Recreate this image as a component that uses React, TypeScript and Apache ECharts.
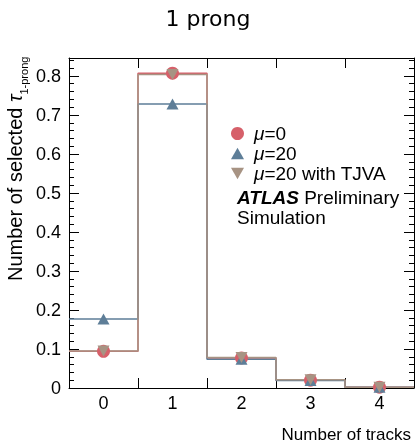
import React, { useEffect, useRef } from "react";
import * as echarts from "echarts";

const trackCategories = ["0", "1", "2", "3", "4"];
const mu0Values = [0.094, 0.807, 0.077, 0.02, 0.002];
const mu20Values = [0.177, 0.728, 0.074, 0.019, 0.002];
const tjvaValues = [0.095, 0.804, 0.078, 0.021, 0.002];
const seriesNames = ["μ=0", "μ=20", "μ=20 with TJVA"];
const seriesColors = ["#d6606a", "#5e7e98", "#a79383"];

const Y_MAX = 0.846;
const X_MIN = -0.5;
const X_MAX = 4.5;
const INV_TRI = "path://M0,0 L10,0 L5,9 Z";
const TRI = "path://M5,0 L10,9 L0,9 Z";

function stepData(values: number[]) {
  const pts: number[][] = [];
  values.forEach((v, i) => {
    pts.push([i - 0.5, v]);
    pts.push([i + 0.5, v]);
  });
  return pts;
}
function pointData(values: number[]) {
  return values.map((v, i) => [i, v]);
}

export default function App() {
  const ref = useRef<HTMLDivElement>(null);
  useEffect(() => {
    if (!ref.current) return;
    const chart = echarts.init(ref.current, null, { renderer: "svg" });
    const font = "Liberation Sans";
    const allValues = [mu0Values, mu20Values, tjvaValues];
    const symbols = ["circle", TRI, INV_TRI];
    const sizes = [13, [12, 11], [12, 11]];
    const rect = { left: 69, right: 2, top: 58, bottom: 56, containLabel: false };

    const yMajor = (position: string, showLabel: boolean) => ({
      type: "value",
      gridIndex: 0,
      position,
      min: 0,
      max: Y_MAX,
      interval: 0.1,
      axisLine: { show: true, onZero: false, lineStyle: { color: "#000", width: 1 } },
      axisTick: { show: true, inside: true, length: 10, lineStyle: { color: "#000" } },
      splitLine: { show: false },
      axisLabel: {
        show: showLabel,
        showMaxLabel: false,
        margin: 8,
        fontFamily: font,
        fontSize: 18,
        color: "#000",
        formatter: (v: number) => (v === 0 ? "0" : v.toFixed(1)),
      },
    });
    const yMinor = (position: string) => ({
      type: "value",
      gridIndex: 1,
      position,
      min: 0,
      max: Y_MAX,
      interval: 0.02,
      axisLine: { show: false, onZero: false },
      axisTick: { show: true, inside: true, length: 5, lineStyle: { color: "#000" } },
      splitLine: { show: false },
      axisLabel: { show: false },
    });
    const xEdges = (position: string) => ({
      type: "value",
      gridIndex: 0,
      position,
      min: X_MIN,
      max: X_MAX,
      interval: 1,
      axisLine: { show: true, onZero: false, lineStyle: { color: "#000", width: 1 } },
      axisTick: { show: true, inside: true, length: 10, lineStyle: { color: "#000" } },
      axisLabel: { show: false },
      splitLine: { show: false },
    });

    const lineSeries = allValues.map((vals, k) => ({
      type: "line",
      name: seriesNames[k] + "_h",
      xAxisIndex: 0,
      yAxisIndex: 0,
      data: stepData(vals),
      showSymbol: false,
      symbol: "none",
      lineStyle: { color: seriesColors[k], width: 1.5 },
      silent: true,
      z: 2,
    }));
    const pointSeries = allValues.map((vals, k) => ({
      type: "scatter",
      name: seriesNames[k],
      xAxisIndex: 0,
      yAxisIndex: 0,
      data: pointData(vals),
      symbol: symbols[k],
      symbolSize: sizes[k],
      itemStyle: { color: seriesColors[k], opacity: 1 },
      z: 3,
    }));

    chart.setOption({
      animation: false,
      grid: [rect, { ...rect }],
      xAxis: [
        xEdges("bottom"),
        xEdges("top"),
        {
          type: "category",
          gridIndex: 1,
          position: "bottom",
          data: trackCategories,
          boundaryGap: true,
          axisLine: { show: false, onZero: false },
          axisTick: { show: false },
          axisLabel: { margin: 6, fontFamily: font, fontSize: 18, color: "#000" },
          splitLine: { show: false },
        },
      ],
      yAxis: [yMajor("left", true), yMajor("right", false), yMinor("left"), yMinor("right")],
      legend: {
        orient: "vertical",
        left: 226,
        top: 119,
        itemWidth: 13,
        itemHeight: 13,
        itemGap: 1,
        data: [
          { name: seriesNames[0], icon: "circle" },
          { name: seriesNames[1], icon: TRI },
          { name: seriesNames[2], icon: INV_TRI },
        ],
        formatter: (name: string) => "{i|μ}" + name.slice(1),
        textStyle: {
          fontFamily: font,
          fontSize: 19,
          lineHeight: 19,
          color: "#000",
          padding: [0, 0, 0, 5],
          rich: {
            i: { fontFamily: font, fontSize: 19, fontStyle: "italic", color: "#000" },
          },
        },
      },
      graphic: [
        {
          type: "text",
          left: "center",
          top: 7,
          style: { text: "1 prong", fontFamily: "DejaVu Sans", fontSize: 22, fill: "#000" },
        },
        {
          type: "text",
          x: 237,
          y: 187,
          style: {
            text: "{b|ATLAS} Preliminary\nSimulation",
            fontFamily: font,
            fontSize: 19,
            lineHeight: 20,
            fill: "#000",
            rich: {
              b: { fontFamily: font, fontSize: 19, fontWeight: "bold", fontStyle: "italic", fill: "#000" },
            },
          },
        },
        {
          type: "text",
          x: 411,
          y: 434,
          style: {
            text: "Number of tracks",
            fontFamily: font,
            fontSize: 17,
            fill: "#000",
            textAlign: "right",
            textVerticalAlign: "middle",
          },
        },
        {
          type: "text",
          x: 1,
          y: 281,
          rotation: Math.PI / 2,
          style: {
            text: "{a|Number of selected }{t|τ}{s|1-prong}",
            fontFamily: font,
            fill: "#000",
            textAlign: "left",
            textVerticalAlign: "top",
            rich: {
              a: { fontFamily: font, fontSize: 20, lineHeight: 28, verticalAlign: "middle", fill: "#000" },
              t: { fontFamily: font, fontSize: 20, fontStyle: "italic", lineHeight: 28, verticalAlign: "middle", fill: "#000" },
              s: { fontFamily: font, fontSize: 11, lineHeight: 28, verticalAlign: "bottom", fill: "#000" },
            },
          },
        },
      ],
      series: [...lineSeries, ...pointSeries],
    });
    return () => chart.dispose();
  }, []);
  return (
    <div
      ref={ref}
      style={{ position: "fixed", left: 0, top: 0, width: 416, height: 444 }}
    />
  );
}
